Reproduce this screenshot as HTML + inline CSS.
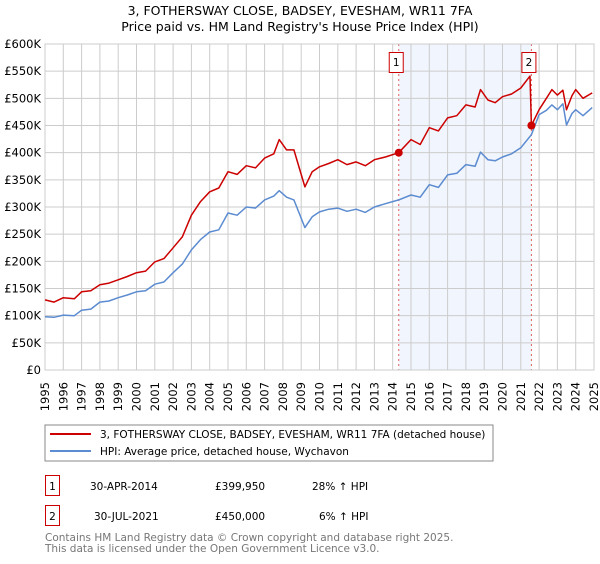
<!DOCTYPE html>
<html><head><meta charset="utf-8"><style>
body{margin:0;background:#fff;font-family:"DejaVu Sans","Liberation Sans",sans-serif;}
svg text{font-family:"DejaVu Sans","Liberation Sans",sans-serif;}
</style></head><body>
<svg id="c" width="600" height="560" xmlns="http://www.w3.org/2000/svg">
<text x="300" y="15" text-anchor="middle" font-size="12.5" fill="#000">3, FOTHERSWAY CLOSE, BADSEY, EVESHAM, WR11 7FA</text>
<text x="300" y="31" text-anchor="middle" font-size="12.5" fill="#000">Price paid vs. HM Land Registry's House Price Index (HPI)</text>
<g id="grid"></g><g id="axes"></g><g id="series"></g>
<rect x="45" y="425" width="448" height="36" fill="#fff" stroke="#888"/>
<line x1="50" y1="434" x2="91" y2="434" stroke="#cc0000" stroke-width="2"/>
<text x="100" y="438" font-size="10.5">3, FOTHERSWAY CLOSE, BADSEY, EVESHAM, WR11 7FA (detached house)</text>
<line x1="50" y1="451" x2="91" y2="451" stroke="#5b8bd0" stroke-width="2"/>
<text x="100" y="455" font-size="10.5">HPI: Average price, detached house, Wychavon</text>
<rect x="45.5" y="475.5" width="14" height="20" fill="#fff" stroke="#cc0000"/>
<text x="52.5" y="490" font-size="10.5" text-anchor="middle">1</text>
<text x="90" y="490" font-size="10.5">30-APR-2014</text>
<text x="215" y="490" font-size="10.5">£399,950</text>
<text x="312" y="490" font-size="10.5">28% ↑ HPI</text>
<rect x="45.5" y="505.5" width="14" height="20" fill="#fff" stroke="#cc0000"/>
<text x="52.5" y="520" font-size="10.5" text-anchor="middle">2</text>
<text x="94" y="520" font-size="10.5">30-JUL-2021</text>
<text x="215" y="520" font-size="10.5">£450,000</text>
<text x="319" y="520" font-size="10.5">6% ↑ HPI</text>
<text x="45" y="541" font-size="10.5" fill="#777">Contains HM Land Registry data © Crown copyright and database right 2025.</text>
<text x="45" y="552" font-size="10.5" fill="#777">This data is licensed under the Open Government Licence v3.0.</text>
</svg>
<script>
const hpiYears=[1995,1995.5,1996,1996.6,1997,1997.5,1998,1998.5,1999,1999.5,2000,2000.5,2001,2001.5,2002,2002.5,2003,2003.5,2004,2004.5,2005,2005.5,2006,2006.5,2007,2007.5,2007.8,2008.2,2008.6,2009.2,2009.6,2010,2010.5,2011,2011.5,2012,2012.5,2013,2013.6,2014.33,2015,2015.5,2016,2016.5,2017,2017.5,2018,2018.5,2018.8,2019.2,2019.6,2020,2020.5,2021,2021.58,2022,2022.4,2022.7,2023,2023.3,2023.5,2023.8,2024,2024.4,2024.9];
const hpiValues=[98,97,101,100,110,112,125,127,133,138,144,146,158,162,179,195,221,240,254,258,289,285,300,298,313,320,330,318,313,262,282,291,296,298,292,296,290,300,306,313,322,318,341,336,359,362,378,375,401,387,385,392,398,409,433,470,478,488,479,490,451,472,479,468,483];
const priceYears=[1995,1995.5,1996,1996.6,1997,1997.5,1998,1998.5,1999,1999.5,2000,2000.5,2001,2001.5,2002,2002.5,2003,2003.5,2004,2004.5,2005,2005.5,2006,2006.5,2007,2007.5,2007.8,2008.2,2008.6,2009.2,2009.6,2010,2010.5,2011,2011.5,2012,2012.5,2013,2013.6,2014.33,2015,2015.5,2016,2016.5,2017,2017.5,2018,2018.5,2018.8,2019.2,2019.6,2020,2020.5,2021,2021.5,2021.58,2022,2022.4,2022.7,2023,2023.3,2023.5,2023.8,2024,2024.4,2024.9];
const priceValues=[129,125,133,131,144,146,157,160,166,172,179,182,199,205,225,245,285,310,328,335,365,360,376,372,390,398,424,405,405,337,365,374,380,387,378,383,376,387,392,399.95,424,415,446,440,464,468,488,484,516,497,492,503,508,519,541,450,479,500,516,506,515,479,505,516,500,510];
const sales=[[2014.33,399.95],[2021.58,450]];
const yTicks=[0,50,100,150,200,250,300,350,400,450,500,550,600];
const xTicks=[1995,1996,1997,1998,1999,2000,2001,2002,2003,2004,2005,2006,2007,2008,2009,2010,2011,2012,2013,2014,2015,2016,2017,2018,2019,2020,2021,2022,2023,2024,2025];
const X0=45,X1=594,Y0=370,Y1=44;
const xs=y=>X0+(y-1995)/30*(X1-X0);
const ys=v=>Y0-v/600*(Y0-Y1);
const NS="http://www.w3.org/2000/svg";
function mk(t,a,p){const e=document.createElementNS(NS,t);for(const k in a)e.setAttribute(k,a[k]);p.appendChild(e);return e;}
const grid=document.getElementById('grid'),axes=document.getElementById('axes'),ser=document.getElementById('series');
const shade=mk('rect',{x:xs(2014.33),y:Y1,width:xs(2021.58)-xs(2014.33),height:Y0-Y1,fill:'#eef2fc',opacity:0.8},grid);


yTicks.forEach(v=>{
 const l=mk('line',{x1:X0,x2:X1,y1:ys(v),y2:ys(v),stroke:'#ccc'},grid);
 
 
 const t=mk('text',{x:X0-4,y:ys(v)+4,'text-anchor':'end','font-size':'11.5'},axes);
 t.textContent=v===0?'£0':'£'+v+'K';
 
 
});
xTicks.forEach(y=>{
 const l=mk('line',{x1:xs(y),x2:xs(y),y1:Y1,y2:Y0,stroke:'#ccc'},grid);
 
 
 const tx=xs(y)+4,ty=382;
 const t=mk('text',{x:tx,y:ty,'text-anchor':'end','font-size':'11.5',transform:'rotate(-90 '+tx+' '+ty+')'},axes);
 t.textContent=y;
 
 
});
sales.forEach((s,i)=>{
 const l=mk('line',{x1:xs(s[0]),x2:xs(s[0]),y1:Y1,y2:Y0,stroke:'#e06060','stroke-dasharray':'2,3'},grid);
 
 
 const b=mk('rect',{x:xs(s[0])-9.5,y:52.5,width:14,height:20,fill:'#fff',stroke:'#cc0000'},ser);
 
 
 const t=mk('text',{x:xs(s[0])-2.5,y:66,'text-anchor':'middle','font-size':'10.5'},ser);
 t.textContent=String(i+1);
 
 
});
function path(xa,va,col,name){
 const d=xa.map((x,i)=>(i?'L':'M')+xs(x).toFixed(1)+','+ys(va[i]).toFixed(1)).join('');
 const p=mk('path',{d:d,fill:'none',stroke:col,'stroke-width':1.5,'stroke-linejoin':'round'},ser);
 
 
}
path(hpiYears,hpiValues,'#5b8bd0','hpi-line');
path(priceYears,priceValues,'#cc0000','price-line');
sales.forEach(s=>{
 const c=mk('circle',{cx:xs(s[0]),cy:ys(s[1]),r:4,fill:'#cc0000'},ser);
 
 
});
const fr=mk('rect',{x:X0,y:Y1,width:X1-X0,height:Y0-Y1,fill:'none',stroke:'#ccc'},axes);


</script>
</body></html>
